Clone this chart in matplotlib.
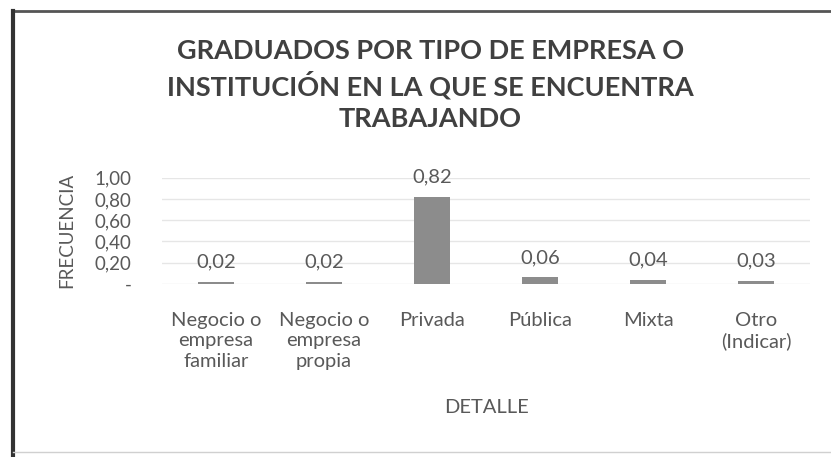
import matplotlib
matplotlib.use("Agg")
import matplotlib.pyplot as plt
from matplotlib.ticker import FuncFormatter
from matplotlib.lines import Line2D

plt.rcParams['font.family'] = ['Lato', 'DejaVu Sans']

# Datos del gráfico
categorias = ['Negocio o\nempresa\nfamiliar', 'Negocio o\nempresa\npropia', 'Privada',
              'Pública', 'Mixta', 'Otro\n(Indicar)']
frecuencias = [0.02, 0.02, 0.82, 0.06, 0.04, 0.03]
etiquetas = ['0,02', '0,02', '0,82', '0,06', '0,04', '0,03']

texto = '#595959'

fig = plt.figure(figsize=(8.31, 4.57), dpi=100)
ax = fig.add_axes([0.195, 0.379, 0.78, 0.232])

x = range(len(categorias))
barras = ax.bar(x, frecuencias, width=0.33, color='#8c8c8c', zorder=3)

# Etiquetas de valor encima de cada barra
for b, txt in zip(barras, etiquetas):
    ax.annotate(txt, (b.get_x() + b.get_width() / 2, b.get_height()),
                xytext=(0, 8), textcoords='offset points',
                ha='center', va='bottom', fontsize=14.5, color=texto)

ax.set_xlim(-0.5, len(categorias) - 0.5)
ax.set_ylim(0, 1.0)
ax.set_yticks([0, 0.2, 0.4, 0.6, 0.8, 1.0])
ax.yaxis.set_major_formatter(FuncFormatter(
    lambda v, p: '-' if v == 0 else f'{v:.2f}'.replace('.', ',')))
ax.set_xticks(list(x))
ax.set_xticklabels(categorias, fontsize=14.5, color=texto, linespacing=1.25)
ax.tick_params(axis='y', length=0, pad=22, labelsize=13.5, labelcolor=texto)
ax.tick_params(axis='x', length=0, pad=20)
ax.grid(axis='y', color='#e6e6e6', linewidth=1, zorder=0)
for s in ax.spines.values():
    s.set_visible(False)

ax.set_ylabel('FRECUENCIA', fontsize=13.5, color=texto, labelpad=14)
ax.set_xlabel('DETALLE', fontsize=14.5, color=texto, labelpad=21)

fig.suptitle('GRADUADOS POR TIPO DE EMPRESA O\nINSTITUCIÓN EN LA QUE SE ENCUENTRA\nTRABAJANDO',
             x=0.518, y=0.915, fontsize=19.5, fontweight='bold', color='#404040',
             linespacing=1.35)

# Marco del recuadro (superior e izquierdo)
fig.add_artist(Line2D([0.015, 1.0], [0.976, 0.976], color='#555555', linewidth=2))
fig.add_artist(Line2D([0.016, 0.016], [0.0, 0.976], color='#333333', linewidth=3))
fig.add_artist(Line2D([0.016, 1.0], [0.01, 0.01], color='#d0d0d0', linewidth=1))

fig.savefig('out.png', dpi=100)
